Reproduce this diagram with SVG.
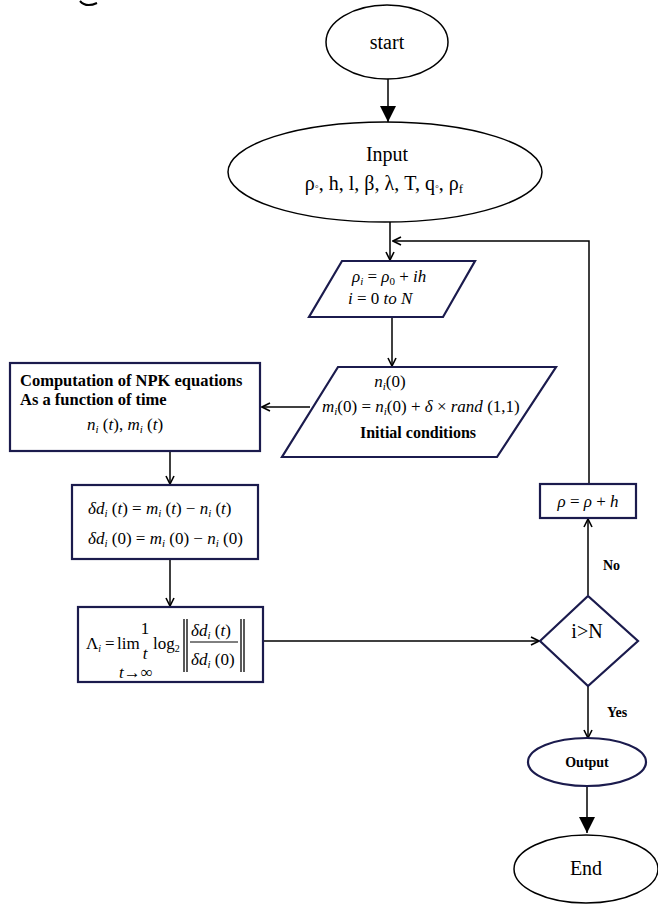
<svg xmlns="http://www.w3.org/2000/svg" width="658" height="904" viewBox="0 0 658 904">
<defs>
<style>
.n{fill:#fff;stroke:#1b1b4d;stroke-width:2.2}
.k{fill:#fff;stroke:#000;stroke-width:1.5}
.l{fill:none;stroke:#000;stroke-width:1.5}
.t{font-family:"Liberation Serif",serif;fill:#000}
.m{font-family:"Liberation Serif",serif;font-style:italic;fill:#000;font-size:17px}
.r{font-style:normal}
.bd{font-family:"Liberation Serif",serif;font-weight:bold;fill:#000}
</style>
<marker id="ff" viewBox="0 0 16 16" refX="16" refY="8" markerWidth="16" markerHeight="16" markerUnits="userSpaceOnUse" orient="auto"><path d="M0,0 L16,8 L0,16 z" fill="#000"/></marker>
<marker id="oa" viewBox="0 0 10 10" refX="9" refY="5" markerWidth="10" markerHeight="10" markerUnits="userSpaceOnUse" orient="auto"><path d="M1,1 L9,5 L1,9" fill="none" stroke="#000" stroke-width="1.6"/></marker>
</defs>
<rect width="658" height="904" fill="#fff"/>
<path d="M80,1 Q86,8 97,3" fill="none" stroke="#000" stroke-width="2"/>

<g id="connectors">
<line class="l" x1="388" y1="79" x2="388" y2="122" marker-end="url(#ff)"/>
<line class="l" x1="390" y1="222" x2="390" y2="260" marker-end="url(#oa)"/>
<line class="l" x1="392" y1="318" x2="392" y2="366" marker-end="url(#oa)"/>
<line class="l" x1="310" y1="407" x2="262" y2="407" marker-end="url(#oa)"/>
<line class="l" x1="170" y1="451" x2="170" y2="484" marker-end="url(#oa)"/>
<line class="l" x1="170" y1="559" x2="170" y2="606" marker-end="url(#oa)"/>
<line class="l" x1="264" y1="641" x2="539" y2="641" marker-end="url(#oa)"/>
<line class="l" x1="588" y1="595" x2="588" y2="519" marker-end="url(#oa)"/>
<polyline class="l" points="589,484 589,241 393,241" marker-end="url(#oa)"/>
<line class="l" x1="588" y1="686" x2="588" y2="738" marker-end="url(#oa)"/>
<line class="l" x1="587" y1="786" x2="587" y2="833" marker-end="url(#ff)"/>
<text class="bd" x="603" y="570" font-size="14">No</text>
<text class="bd" x="607" y="717" font-size="14">Yes</text>
</g>

<g id="start">
<ellipse class="k" cx="387" cy="42" rx="61" ry="37"/>
<text class="t" x="387" y="49" font-size="20" text-anchor="middle">start</text>
</g>

<g id="input">
<ellipse class="k" cx="385" cy="172" rx="157" ry="50"/>
<text class="t" x="387" y="161" font-size="20" text-anchor="middle">Input</text>
<text class="t" x="384" y="190" font-size="20" text-anchor="middle">ρ<tspan font-size="11">◦</tspan>, h, l, β, λ, T, q<tspan font-size="11">◦</tspan>, ρ<tspan font-size="13" dy="3">f</tspan></text>
</g>

<g id="loop">
<polygon class="n" points="342,261 475,261 443,317 309,317"/>
<text class="m" x="352" y="282">ρ<tspan font-size="11" dy="3">i</tspan><tspan dy="-3" class="r"> = </tspan>ρ<tspan font-size="11" dy="3" class="r">0</tspan><tspan dy="-3" class="r"> + </tspan>ih</text>
<text class="m" x="348" y="304">i<tspan class="r"> = 0 </tspan>to N</text>
</g>

<g id="initial">
<polygon class="n" points="338,367 556,367 497,457 282,457"/>
<text class="m" x="390" y="387" text-anchor="middle">n<tspan font-size="11" dy="3">i</tspan><tspan dy="-3" class="r">(0)</tspan></text>
<text class="m" x="322" y="412">m<tspan font-size="11" dy="3">i</tspan><tspan dy="-3" class="r">(0) = </tspan>n<tspan font-size="11" dy="3">i</tspan><tspan dy="-3" class="r">(0) + </tspan>δ<tspan class="r"> × </tspan>rand<tspan class="r"> (1,1)</tspan></text>
<text class="bd" x="418" y="438" font-size="16" text-anchor="middle">Initial conditions</text>
</g>

<g id="compute">
<rect class="n" x="10" y="363" width="250" height="88"/>
<text class="bd" x="20" y="386" font-size="16.5">Computation of  NPK equations</text>
<text class="bd" x="20" y="405" font-size="16.5">As a function of time</text>
<text class="m" x="87" y="430">n<tspan font-size="11" dy="3">i</tspan><tspan dy="-3" class="r"> (</tspan>t<tspan class="r">), </tspan>m<tspan font-size="11" dy="3">i</tspan><tspan dy="-3" class="r"> (</tspan>t<tspan class="r">)</tspan></text>
</g>

<g id="delta">
<rect class="n" x="72" y="485" width="186" height="74"/>
<text class="m" x="88" y="514">δd<tspan font-size="11" dy="3">i</tspan><tspan dy="-3" class="r"> (</tspan>t<tspan class="r">) = </tspan>m<tspan font-size="11" dy="3">i</tspan><tspan dy="-3" class="r"> (</tspan>t<tspan class="r">) − </tspan>n<tspan font-size="11" dy="3">i</tspan><tspan dy="-3" class="r"> (</tspan>t<tspan class="r">)</tspan></text>
<text class="m" x="88" y="544">δd<tspan font-size="11" dy="3">i</tspan><tspan dy="-3" class="r"> (0) = </tspan>m<tspan font-size="11" dy="3">i</tspan><tspan dy="-3" class="r"> (0) − </tspan>n<tspan font-size="11" dy="3">i</tspan><tspan dy="-3" class="r"> (0)</tspan></text>
</g>

<g id="lyapunov">
<rect class="n" x="78" y="607" width="185" height="75"/>
<text class="m" x="86" y="649" font-size="16"><tspan class="r">Λ</tspan><tspan font-size="10" dy="3">i</tspan><tspan class="r" x="105" dy="-3">=</tspan><tspan class="r" x="117">lim</tspan></text>
<text class="m r" x="145" y="634" font-size="15" text-anchor="middle">1</text>
<text class="m" x="145" y="659" font-size="15" text-anchor="middle">t</text>
<text class="m" x="153" y="649" font-size="16"><tspan class="r">log</tspan><tspan class="r" font-size="10" dy="3">2</tspan></text>
<line x1="184" y1="619" x2="184" y2="672" stroke="#000" stroke-width="1.3"/>
<line x1="187" y1="619" x2="187" y2="672" stroke="#000" stroke-width="1.3"/>
<text class="m" x="191" y="636">δd<tspan font-size="11" dy="3">i</tspan><tspan dy="-3" class="r"> (</tspan>t<tspan class="r">)</tspan></text>
<line x1="190" y1="642" x2="238" y2="642" stroke="#000" stroke-width="1"/>
<text class="m" x="191" y="665">δd<tspan font-size="11" dy="3">i</tspan><tspan dy="-3" class="r"> (0)</tspan></text>
<line x1="241" y1="619" x2="241" y2="672" stroke="#000" stroke-width="1.3"/>
<line x1="244" y1="619" x2="244" y2="672" stroke="#000" stroke-width="1.3"/>
<text class="m" x="119" y="678" font-size="8">t<tspan class="r">→∞</tspan></text>
</g>

<g id="decision">
<polygon class="n" points="540,641 588,596 638,641 588,686"/>
<text class="t" x="587" y="638" font-size="20" text-anchor="middle">i&gt;N</text>
</g>

<g id="increment">
<rect class="n" x="540" y="484" width="96" height="34"/>
<text class="m" x="588" y="507" text-anchor="middle">ρ<tspan class="r"> = </tspan>ρ<tspan class="r"> + </tspan>h</text>
</g>

<g id="output">
<ellipse class="n" cx="587" cy="762" rx="59" ry="24"/>
<text class="bd" x="587" y="767" font-size="14" text-anchor="middle">Output</text>
</g>

<g id="end">
<ellipse class="k" cx="586" cy="869" rx="72" ry="34"/>
<text class="t" x="586" y="875" font-size="20" text-anchor="middle">End</text>
</g>
</svg>
